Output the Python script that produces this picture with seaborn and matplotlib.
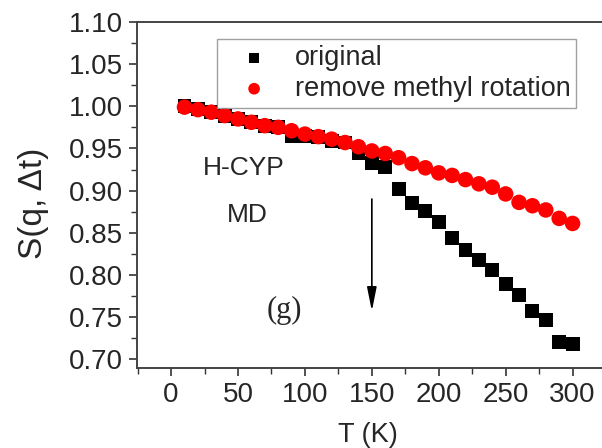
import numpy as np
import pandas as pd
import seaborn as sns
import matplotlib.pyplot as plt
from matplotlib.ticker import MultipleLocator

# temperatures (K)
temps = list(range(10, 310, 10))

# S(q, dt)
original = [1.000, 0.997, 0.993, 0.989, 0.985, 0.981, 0.977, 0.975, 0.965, 0.965,
            0.964, 0.959, 0.957, 0.945, 0.933, 0.928, 0.902, 0.885, 0.876, 0.863,
            0.844, 0.830, 0.818, 0.806, 0.789, 0.776, 0.757, 0.746, 0.720, 0.718]
no_methyl = [0.999, 0.996, 0.993, 0.989, 0.985, 0.981, 0.977, 0.975, 0.971, 0.967,
             0.964, 0.961, 0.957, 0.952, 0.947, 0.944, 0.939, 0.932, 0.927, 0.921,
             0.918, 0.913, 0.908, 0.904, 0.896, 0.886, 0.882, 0.877, 0.867, 0.861]

labels = ["original", "remove methyl rotation"]

sns.set_style("ticks")
plt.rcParams['font.family'] = ['Liberation Sans', 'DejaVu Sans']

df1 = pd.DataFrame({"T": temps, "S": original})
df2 = pd.DataFrame({"T": temps, "S": no_methyl})

fig = plt.figure(figsize=(6.02, 4.48), dpi=100)
ax = fig.add_axes([137/602, 80/448, 465/602, 346/448])

sns.scatterplot(data=df1, x="T", y="S", marker="s", s=100, color="black",
                edgecolor="none", label=labels[0], ax=ax, zorder=3)
sns.scatterplot(data=df2, x="T", y="S", marker="o", s=125, color="#ff0000",
                edgecolor="none", label=labels[1], ax=ax, zorder=4)

ax.set_xlim(-25.5, 322)
ax.set_ylim(0.6895, 1.10)
ax.xaxis.set_major_locator(MultipleLocator(50))
ax.xaxis.set_minor_locator(MultipleLocator(25))
ax.yaxis.set_major_locator(MultipleLocator(0.05))
ax.yaxis.set_minor_locator(MultipleLocator(0.025))
ax.yaxis.set_major_formatter(plt.FormatStrFormatter("%.2f"))

ax.tick_params(which="major", direction="out", length=6, width=1.2,
               labelsize=20, pad=4, color="#333333")
ax.tick_params(which="minor", direction="out", length=4, width=1.0, color="#333333")
ax.tick_params(axis="x", which="both", top=False)
ax.tick_params(axis="y", which="both", right=False)

for side in ["left", "bottom", "top"]:
    ax.spines[side].set_color("#444444")
    ax.spines[side].set_linewidth(1.4)
ax.spines["right"].set_visible(False)

ax.set_xlabel("T (K)", fontsize=19.5)
ax.set_ylabel("S(q, Δt)", fontsize=24)
ax.xaxis.set_label_coords(0.497, -0.155)
ax.yaxis.set_label_coords(-0.19, 0.477)

ax.text(54, 0.927, "H-CYP", fontsize=19, ha="center", va="center")
ax.text(57, 0.871, "MD", fontsize=19, ha="center", va="center")
ax.text(84.5, 0.758, "(g)", fontsize=22, ha="center", va="center",
        family="Liberation Serif")
ax.annotate("", xy=(150, 0.757), xytext=(150, 0.890),
            arrowprops=dict(arrowstyle="-|>,head_width=0.18,head_length=0.9",
                            color="black", lw=1.2,
                            mutation_scale=16, shrinkA=0, shrinkB=0))

leg = ax.legend(loc="upper left", bbox_to_anchor=(217/602, 1 - 39/448),
                bbox_transform=fig.transFigure, borderaxespad=0, fontsize=19.5,
                frameon=True, fancybox=False, borderpad=0.22, handletextpad=0.35,
                labelspacing=0.18, markerscale=0.75, handlelength=2.3)
leg.get_frame().set_edgecolor("#888888")
leg.get_frame().set_linewidth(1.0)

fig.savefig("out.png", dpi=100)
